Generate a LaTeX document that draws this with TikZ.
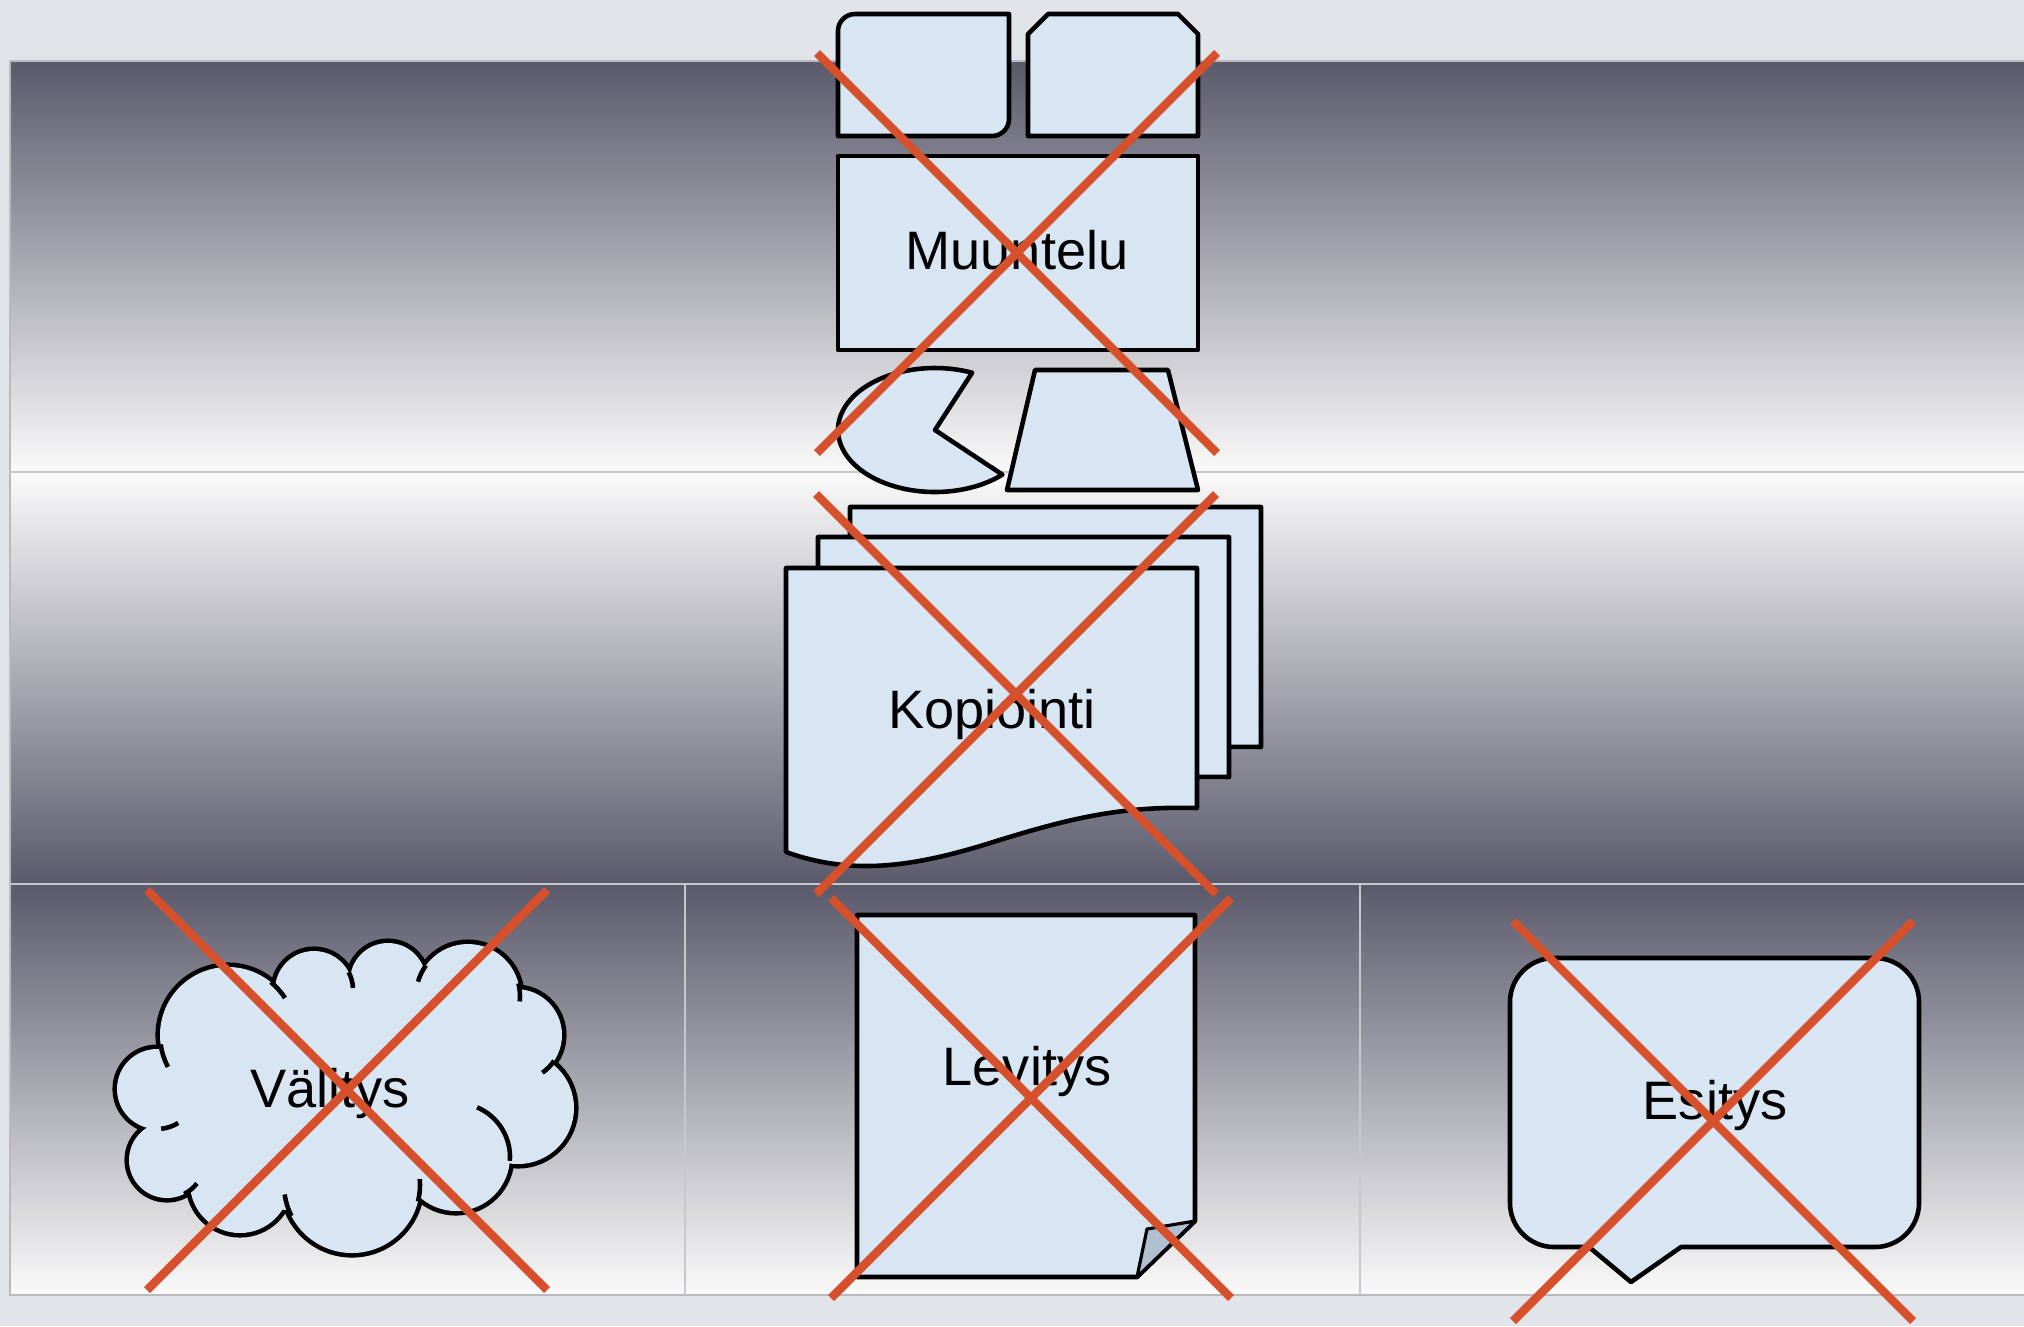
\documentclass[tikz,border=0pt]{standalone}
\usepackage{fontspec}
\setmainfont{Liberation Sans}
\definecolor{bgc}{RGB}{225,228,232}
\definecolor{darkc}{RGB}{90,90,108}
\definecolor{lightc}{RGB}{250,250,250}
\definecolor{divc}{RGB}{200,200,204}
\definecolor{borderc}{RGB}{185,185,190}
\definecolor{shapefill}{RGB}{216,230,244}
\definecolor{crossc}{RGB}{214,80,44}
\definecolor{foldc}{RGB}{176,192,208}
\begin{document}
\begin{tikzpicture}[x=0.01cm,y=-0.01cm,
  shp/.style={draw=black,fill=shapefill,line width=1.3pt,line join=round},
  xline/.style={draw=crossc,line width=2.4pt},
  hook/.style={draw=black,line width=1.3pt},
  lbl/.style={anchor=base,inner sep=0pt,font=\fontsize{15.4}{18}\selectfont}]
\useasboundingbox (0,0) rectangle (2024,1326);
\fill[bgc] (0,0) rectangle (2024,1326);
% panel rows
\shade[top color=darkc,bottom color=lightc] (10,61) rectangle (2024,472);
\shade[top color=lightc,bottom color=darkc] (10,472) rectangle (2024,884);
\shade[top color=darkc,bottom color=lightc] (10,884) rectangle (2024,1295);
\draw[borderc,line width=0.8pt] (10,61) rectangle (2040,1295);
\draw[divc,line width=0.6pt] (10,472) -- (2024,472);
\draw[divc,line width=0.6pt] (10,884) -- (2024,884);
\draw[divc,line width=0.6pt] (685,884) -- (685,1295);
\draw[divc,line width=0.6pt] (1360,884) -- (1360,1295);

% ---- row 1: Muuntelu group
\draw[shp] (855,14) -- (1009,14) -- (1009,119) arc[start angle=0,end angle=90,radius=17]
  -- (838,136) -- (838,31) arc[start angle=180,end angle=270,radius=17] -- cycle;
\draw[shp] (1048,14) -- (1178,14) -- (1198,34) -- (1198,136) -- (1028,136) -- (1028,34) -- cycle;
\draw[shp] (838,156) rectangle (1198,350);
\draw[shp] (935,430) -- ([shift={(935,430)}]-67.5:97 and 62)
  arc[start angle=-67.5,end angle=-314,x radius=97,y radius=62] -- cycle;
\draw[shp] (1035,370) -- (1168,370) -- (1198,490) -- (1007,490) -- cycle;
\node[lbl] (muuntelu) at (1017,269) {Muuntelu};

% ---- row 2: Kopiointi (stacked documents)
\foreach \dx/\dy in {64/-61,32/-31,0/0}{
  \begin{scope}[shift={(\dx,\dy)}]
  \draw[shp] (786,568) -- (1197,568) -- (1197,808)
    .. controls (1120,806) and (1070,818) .. (990,843)
    .. controls (910,868) and (850,875) .. (786,852) -- cycle;
  \end{scope}
}
\node[lbl] (kopiointi) at (992,728) {Kopiointi};

% ---- row 3: Välitys cloud
\foreach \cx/\cy/\r in {157/1089/40,228/1035/68,314/990/39,388/981/38,468/996/52,516/1035/46,518/1108/56,456/1157/54,352/1185/68,240/1183/50,167/1160/38}{
  \draw[black,line width=2.6pt] (\cx,\cy) circle[radius=\r];
}
\foreach \cx/\cy/\r in {157/1089/40,228/1035/68,314/990/39,388/981/38,468/996/52,516/1035/46,518/1108/56,456/1157/54,352/1185/68,240/1183/50,167/1160/38}{
  \fill[shapefill] (\cx,\cy) circle[radius=\r];
}
\fill[shapefill] (163,1052) -- (277,987) -- (352,977) -- (423,970) -- (518,990) -- (550,1065)
  -- (510,1160) -- (420,1193) -- (285,1210) -- (190,1192) -- (167,1128) -- cycle;
% inner hooks
\draw[hook] ([shift={(456,1157)}]-67:54) arc[start angle=-67,end angle=4,radius=54];
\draw[hook] ([shift={(228,1035)}]-51:68) arc[start angle=-51,end angle=-33,radius=68];
\draw[hook] ([shift={(314,990)}]-27:39) arc[start angle=-27,end angle=-3,radius=39];
\draw[hook] ([shift={(468,996)}]-144:52) arc[start angle=-144,end angle=-164,radius=52];
\draw[hook] ([shift={(468,996)}]-14:52) arc[start angle=-14,end angle=6,radius=52];
\draw[hook] ([shift={(516,1035)}]34:46) arc[start angle=34,end angle=55,radius=46];
\draw[hook] ([shift={(352,1185)}]14:68) arc[start angle=14,end angle=-5,radius=68];
\draw[hook] ([shift={(352,1185)}]153:68) arc[start angle=153,end angle=172,radius=68];
\draw[hook] ([shift={(167,1160)}]63:38) arc[start angle=63,end angle=38,radius=38];
\draw[hook] ([shift={(157,1089)}]84:40) arc[start angle=84,end angle=58,radius=40];
\draw[hook] ([shift={(228,1035)}]172:68) arc[start angle=172,end angle=152,radius=68];
\node[lbl] (valitys) at (330,1107) {Välitys};

% ---- row 3: Levitys note with folded corner
\draw[shp] (857,915) -- (1195,915) -- (1195,1221) -- (1137,1277) -- (857,1277) -- cycle;
\draw[draw=black,fill=foldc,line width=0.9pt,line join=round] (1137,1277) -- (1147,1229) -- (1195,1221) -- cycle;
\node[lbl] (levitys) at (1027,1085) {Levitys};

% ---- row 3: Esitys speech bubble
\draw[shp] (1554,958) -- (1875,958) arc[start angle=-90,end angle=0,radius=44]
  -- (1919,1203) arc[start angle=0,end angle=90,radius=44]
  -- (1681,1247) -- (1631,1282) -- (1589,1247) -- (1554,1247)
  arc[start angle=90,end angle=180,radius=44]
  -- (1510,1002) arc[start angle=180,end angle=270,radius=44] -- cycle;
\node[lbl] (esitys) at (1715,1119) {Esitys};

% ---- red crosses
\foreach \x/\y in {817/53,816/494,147/890,831/898,1513/921}{
  \draw[xline] (\x,\y) -- ++(400,400);
  \draw[xline] (\x+400,\y) -- ++(-400,400);
}
\end{tikzpicture}
\end{document}
